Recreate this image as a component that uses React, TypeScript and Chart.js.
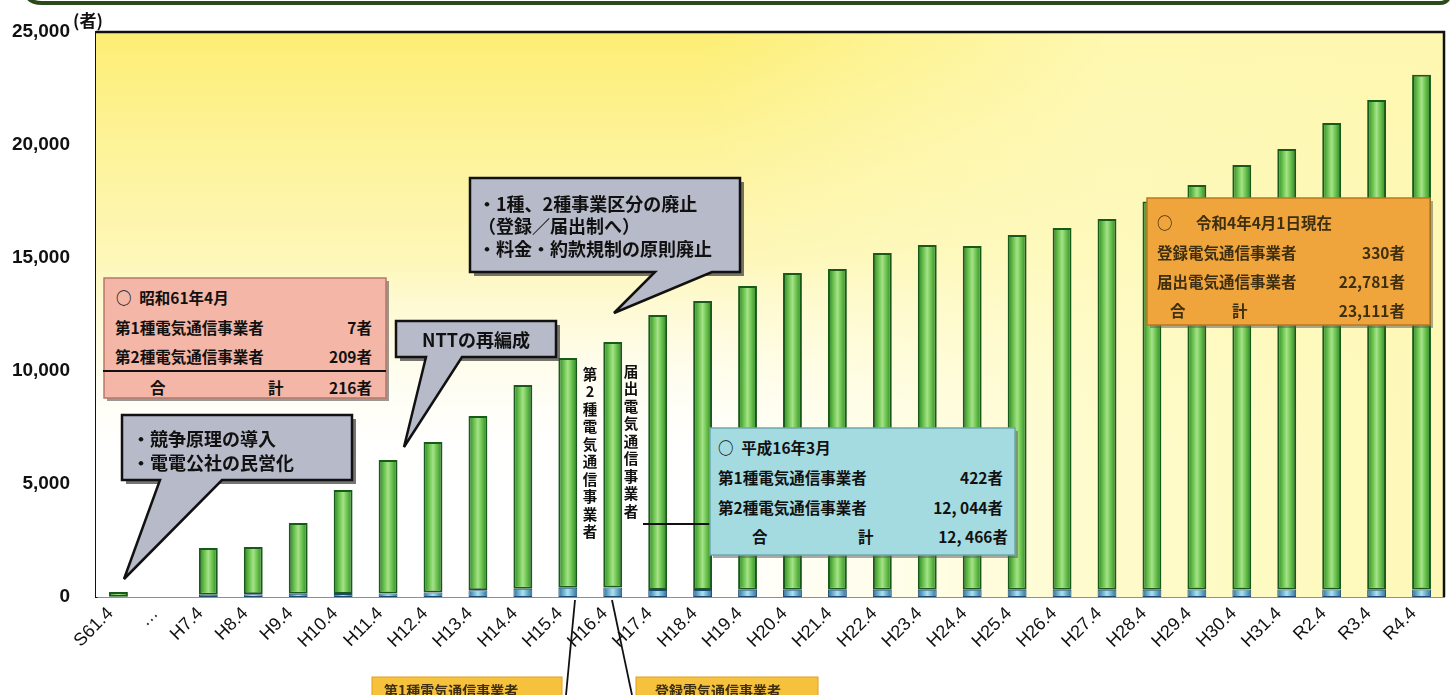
import React, { useEffect, useRef } from 'react';
import { Chart, registerables } from 'chart.js';

Chart.register(...registerables);

// ---- data ----
const categories = [
  'S61.4', '…', 'H7.4', 'H8.4', 'H9.4', 'H10.4', 'H11.4', 'H12.4', 'H13.4', 'H14.4',
  'H15.4', 'H16.4', 'H17.4', 'H18.4', 'H19.4', 'H20.4', 'H21.4', 'H22.4', 'H23.4', 'H24.4',
  'H25.4', 'H26.4', 'H27.4', 'H28.4', 'H29.4', 'H30.4', 'H31.4', 'R2.4', 'R3.4', 'R4.4',
];
// 第1種 / 登録 電気通信事業者 (bottom blue segment)
const firstTypeCounts = [
  7, null, 100, 123, 139, 138, 159, 199, 302, 367,
  410, 422, 310, 315, 320, 320, 320, 322, 318, 320,
  319, 326, 326, 326, 328, 328, 331, 330, 325, 330,
];
// 第2種 / 届出 電気通信事業者 (green segment)
const secondTypeCounts = [
  209, null, 2070, 2087, 3131, 4592, 5901, 6661, 7708, 9013,
  10170, 10858, 12170, 12785, 13440, 14020, 14190, 14898, 15262, 15210,
  15701, 16004, 16404, 17174, 17902, 18792, 19489, 20640, 21665, 22781,
];
const yTickValues = [0, 5000, 10000, 15000, 20000, 25000];
const yUnit = '(者)';

const BAR_FRACTION = 0.42;

function barFill(stops: [number, string][]) {
  return (ctx: any) => {
    const chart = ctx.chart;
    const xs = chart.scales && chart.scales.x;
    if (!xs || !chart.chartArea || ctx.type !== 'data') return stops[1][1];
    const cx = xs.getPixelForValue(ctx.dataIndex);
    const half = ((xs.width / categories.length) * BAR_FRACTION) / 2;
    if (!isFinite(cx) || !isFinite(half)) return stops[1][1];
    const g = chart.ctx.createLinearGradient(cx - half, 0, cx + half, 0);
    stops.forEach(([o, c]) => g.addColorStop(o, c));
    return g;
  };
}

const backgroundPlugin = {
  id: 'areaBackground',
  beforeDatasetsDraw(chart: any) {
    const { ctx, chartArea: a } = chart;
    if (!a) return;
    ctx.save();
    ctx.fillStyle = '#ffffff';
    ctx.fillRect(a.left, a.top, a.right - a.left, a.bottom - a.top);
    const v = ctx.createLinearGradient(0, a.top, 0, a.bottom);
    v.addColorStop(0, 'rgba(252,238,115,1)');
    v.addColorStop(0.4, 'rgba(253,244,160,0.75)');
    v.addColorStop(0.8, 'rgba(255,255,255,0)');
    ctx.fillStyle = v;
    ctx.fillRect(a.left, a.top, a.right - a.left, a.bottom - a.top);
    const h = ctx.createLinearGradient(a.left, 0, a.right, 0);
    h.addColorStop(0, 'rgba(255,255,255,0)');
    h.addColorStop(0.45, 'rgba(255,252,200,0)');
    h.addColorStop(0.75, 'rgba(254,250,190,0.8)');
    h.addColorStop(1, 'rgba(253,248,180,0.95)');
    ctx.fillStyle = h;
    ctx.fillRect(a.left, a.top, a.right - a.left, a.bottom - a.top);
    ctx.restore();
  },
  afterDraw(chart: any) {
    const { ctx, chartArea: a } = chart;
    if (!a) return;
    ctx.save();
    ctx.strokeStyle = '#111';
    ctx.lineWidth = 2.5;
    ctx.beginPath();
    ctx.moveTo(a.left, a.top);
    ctx.lineTo(a.right, a.top);
    ctx.lineTo(a.right, a.bottom);
    ctx.stroke();
    ctx.restore();
  },
};

const JP = "'Noto Sans CJK JP', 'Noto Sans', sans-serif";

function Callout(props: {
  x: number; y: number; w: number; h: number; t1: number; t2: number; tip: [number, number];
  fill: string;
}) {
  const { x, y, w, h, t1, t2, tip } = props;
  const d = `M${x},${y} H${x + w} V${y + h} H${t2} L${tip[0]},${tip[1]} L${t1},${y + h} H${x} Z`;
  const sd = `M${x + 4},${y + 4} H${x + w + 4} V${y + h + 4} H${x + 4} Z`;
  return (
    <g>
      <path d={sd} fill="#3a3a3a" opacity={0.7} />
      <path d={d} fill={props.fill} stroke="#111" strokeWidth={2.5} strokeLinejoin="miter" />
    </g>
  );
}

function VText(props: { x: number; y: number; step: number; text: string; size: number }) {
  return (
    <g>
      {Array.from(props.text).map((ch, i) => (
        <text key={i} x={props.x} y={props.y + i * props.step} textAnchor="middle"
          dominantBaseline="central" fontFamily={JP} fontWeight={700} fontSize={props.size} fill="#111">
          {ch}
        </text>
      ))}
    </g>
  );
}

function T(props: { x: number; y: number; children: any; size?: number; anchor?: string; fill?: string }) {
  return (
    <text x={props.x} y={props.y} textAnchor={(props.anchor as any) || 'start'} dominantBaseline="central"
      fontFamily={JP} fontWeight={700} fontSize={props.size || 15.5} fill={props.fill || '#111'}>
      {props.children}
    </text>
  );
}

function Overlay() {
  return (
    <svg width={1453} height={695} style={{ position: 'absolute', left: 0, top: 0, pointerEvents: 'none' }}>
      {/* frame edge at top */}
      <path d="M26,-10 Q26,3 42,3 H1440 Q1450,3 1450,-10" fill="none" stroke="#2b4a1a" strokeWidth={4} />
      <text x={73} y={19} dominantBaseline="central" fontFamily={JP} fontWeight={700} fontSize={17} fill="#111">{yUnit}</text>

      {/* 昭和61年4月 box */}
      <rect x={107} y={281} width={282} height={120} fill="#555" opacity={0.6} />
      <rect x={104} y={278} width={282} height={120} fill="#f3b6a7" stroke="#b9786a" strokeWidth={1.5} />
      <T x={116} y={297}>○&#8194;昭和61年4月</T>
      <T x={115} y={327}>第1種電気通信事業者</T>
      <T x={372} y={327} anchor="end">7者</T>
      <T x={115} y={356}>第2種電気通信事業者</T>
      <T x={372} y={356} anchor="end">209者</T>
      <line x1={103} y1={371} x2={386} y2={371} stroke="#111" strokeWidth={2} />
      <T x={150} y={387}>合</T>
      <T x={268} y={387}>計</T>
      <T x={372} y={387} anchor="end">216者</T>

      {/* 競争原理 callout */}
      <Callout x={122} y={415} w={230} h={65} t1={160} t2={222} tip={[124, 579]} fill="#b7bac8" />
      <T x={132} y={438} size={18}>・競争原理の導入</T>
      <T x={132} y={462} size={18}>・電電公社の民営化</T>

      {/* NTT callout */}
      <Callout x={396} y={321} w={160} h={36} t1={426} t2={462} tip={[404, 447]} fill="#b7bac8" />
      <T x={476} y={339} size={18} anchor="middle">NTTの再編成</T>

      {/* 区分廃止 callout */}
      <Callout x={470} y={178} w={270} h={94} t1={655} t2={712} tip={[614, 313]} fill="#b7bac8" />
      <T x={478} y={203} size={18}>・1種、2種事業区分の廃止</T>
      <T x={478} y={225} size={18}>（登録／届出制へ）</T>
      <T x={478} y={248} size={18}>・料金・約款規制の原則廃止</T>

      {/* vertical labels */}
      <VText x={590} y={373} step={17.5} size={14.5} text="第2種電気通信事業者" />
      <VText x={631} y={370} step={17.5} size={14.5} text="届出電気通信事業者" />

      {/* 平成16年3月 box */}
      <line x1={643} y1={524} x2={712} y2={524} stroke="#111" strokeWidth={1.8} />
      <rect x={713} y={431} width={305} height={127} fill="#555" opacity={0.5} />
      <rect x={710} y={428} width={305} height={127} fill="#a4dbe0" stroke="#6fa8b0" strokeWidth={1.5} />
      <T x={718} y={447}>○&#8194;平成16年3月</T>
      <T x={718} y={477}>第1種電気通信事業者</T>
      <T x={1003} y={477} anchor="end">422者</T>
      <T x={718} y={507}>第2種電気通信事業者</T>
      <T x={1003} y={507} anchor="end">12, 044者</T>
      <T x={752} y={536}>合</T>
      <T x={858} y={536}>計</T>
      <T x={1008} y={536} anchor="end">12, 466者</T>

      {/* 令和4年4月1日現在 box */}
      <rect x={1150} y={201} width={283} height={127} fill="#555" opacity={0.5} />
      <rect x={1147} y={198} width={283} height={127} fill="#f0a53c" stroke="#b87a20" strokeWidth={1.5} />
      <T x={1157} y={222} fill="#3d2f10">○</T>
      <T x={1196} y={222} fill="#3d2f10">令和4年4月1日現在</T>
      <T x={1157} y={252} fill="#3d2f10">登録電気通信事業者</T>
      <T x={1405} y={252} anchor="end" fill="#3d2f10">330者</T>
      <T x={1157} y={281} fill="#3d2f10">届出電気通信事業者</T>
      <T x={1405} y={281} anchor="end" fill="#3d2f10">22,781者</T>
      <T x={1170} y={310} fill="#3d2f10">合</T>
      <T x={1232} y={310} fill="#3d2f10">計</T>
      <T x={1405} y={310} anchor="end" fill="#3d2f10">23,111者</T>

      {/* bottom labels */}
      <line x1={566} y1={695} x2={575} y2={600} stroke="#111" strokeWidth={1.8} />
      <line x1={632} y1={695} x2={612} y2={600} stroke="#111" strokeWidth={1.8} />
      <rect x={372} y={677} width={190} height={25} fill="#f6c23e" stroke="#e0a020" strokeWidth={1} />
      <T x={384} y={690} size={14} fill="#3d2f10">第1種電気通信事業者</T>
      <rect x={636} y={677} width={182} height={25} fill="#f6c23e" stroke="#e0a020" strokeWidth={1} />
      <T x={655} y={690} size={14} fill="#3d2f10">登録電気通信事業者</T>
    </svg>
  );
}

export default function App() {
  const canvasRef = useRef<HTMLCanvasElement | null>(null);

  useEffect(() => {
    if (!canvasRef.current) return;
    const chart = new Chart(canvasRef.current, {
      type: 'bar',
      data: {
        labels: categories,
        datasets: [
          {
            label: '第1種・登録電気通信事業者',
            data: firstTypeCounts as any,
            backgroundColor: barFill([[0, '#2d6f9e'], [0.5, '#a9e3f2'], [1, '#2d6f9e']]) as any,
            borderColor: '#1d4a70',
            borderWidth: 1,
            borderSkipped: false,
            categoryPercentage: 1,
            barPercentage: BAR_FRACTION,
          },
          {
            label: '第2種・届出電気通信事業者',
            data: secondTypeCounts as any,
            backgroundColor: barFill([[0, '#2a7f26'], [0.3, '#6cc44e'], [0.5, '#a6e28a'], [0.7, '#6cc44e'], [1, '#2a7f26']]) as any,
            borderColor: '#175a1a',
            borderWidth: 2,
            borderSkipped: false,
            categoryPercentage: 1,
            barPercentage: BAR_FRACTION,
          },
        ],
      },
      options: {
        responsive: false,
        animation: false,
        layout: { padding: { top: 32, right: 9, left: 0, bottom: 0 } },
        plugins: { legend: { display: false }, tooltip: { enabled: false } },
        scales: {
          x: {
            stacked: true,
            grid: { display: false, drawTicks: false },
            border: { display: true, color: '#8a8f9a', width: 2 },
            ticks: {
              autoSkip: false,
              maxRotation: 45,
              minRotation: 45,
              padding: 6,
              labelOffset: -8,
              color: '#111',
              font: { family: "Arial, 'Liberation Sans', sans-serif", size: 18 },
            },
            afterFit: (scale: any) => { scale.height = 98; },
          },
          y: {
            stacked: true,
            min: 0,
            max: 25000,
            afterBuildTicks: (scale: any) => { scale.ticks = yTickValues.map((v) => ({ value: v })); },
            grid: { display: false, drawTicks: false },
            border: { display: true, color: '#111', width: 2.5 },
            ticks: {
              padding: 26,
              color: '#111',
              font: { family: "Arial, 'Liberation Sans', sans-serif", size: 19, weight: 'bold' },
              callback: (v: any) => Number(v).toLocaleString('en-US'),
            },
            afterFit: (scale: any) => {
              scale.width = 96;
              scale.paddingTop = 0;
              scale.paddingBottom = 0;
            },
          },
        },
      },
      plugins: [backgroundPlugin],
    });
    return () => chart.destroy();
  }, []);

  return (
    <div style={{ position: 'absolute', left: 0, top: 0, width: 1453, height: 695, background: '#fff', overflow: 'hidden' }}>
      <canvas ref={canvasRef} width={1453} height={695} style={{ width: 1453, height: 695, display: 'block' }} />
      <Overlay />
    </div>
  );
}
